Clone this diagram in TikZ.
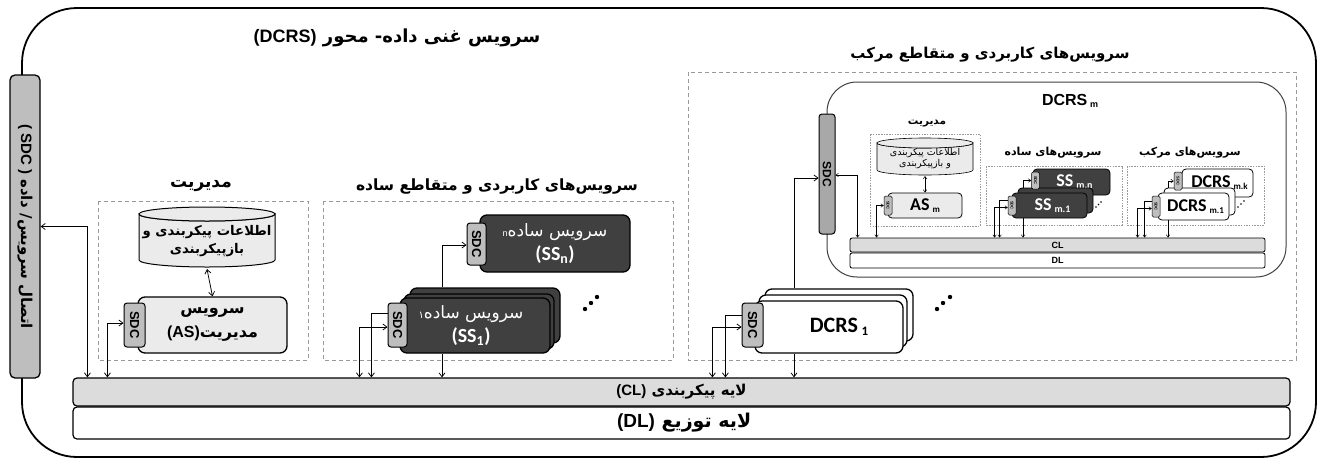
\documentclass[tikz,border=0pt]{standalone}
\usepackage{fontspec}
\usepackage{graphicx}
\usetikzlibrary{arrows.meta,calc}
\setmainfont{Liberation Sans}
\newfontfamily\farsi[Script=Arabic]{DejaVu Sans}
\newfontfamily\lat{Liberation Sans}
\newfontfamily\carl{Carlito}
\TeXXeTstate=1
\newcommand\fa[1]{{\farsi\beginR #1\endR}}
\newcommand\latn[1]{\beginL{\lat #1}\endL}
\newcommand\fsz[1]{\fontsize{#1}{#1}\selectfont}
\definecolor{sdcg}{HTML}{BEBEBE}
\definecolor{msdcg}{HTML}{A8A8A8}
\definecolor{clg}{HTML}{DCDCDC}
\definecolor{darkf}{HTML}{404040}
\definecolor{lightf}{HTML}{EBEBEB}
\definecolor{dashg}{HTML}{9A9A9A}
\newcommand\mycyl[6]{%
\path[#1] ({#2-#5},#3) -- ({#2-#5},#4) arc[start angle=180,end angle=0,x radius=#5,y radius=#6] -- ({#2+#5},#3) arc[start angle=0,end angle=180,x radius=#5,y radius=#6] -- cycle;
\path[#1] (#2,#3) ellipse[x radius=#5,y radius=#6];}
\begin{document}
\begin{tikzpicture}[x=1pt,y=-1pt,
  box/.style={draw, line width=1.3pt, rounded corners=7pt, inner sep=0pt, align=center},
  sdc/.style={draw, fill=sdcg, line width=1pt, rounded corners=3pt, inner sep=0pt},
  dbox/.style={draw=dashg, line width=0.8pt, dash pattern=on 4pt off 3pt},
  ibox/.style={draw=dashg, line width=0.5pt, dash pattern=on 1.5pt off 1.2pt},
  conn/.style={line width=0.75pt, -{Straight Barb[length=4pt,width=6pt]}},
  bconn/.style={line width=0.75pt, {Straight Barb[length=4pt,width=6pt]}-{Straight Barb[length=4pt,width=6pt]}},
  iconn/.style={line width=0.5pt, -{Straight Barb[length=2.5pt,width=3.5pt]}},
  ibconn/.style={line width=0.5pt, {Straight Barb[length=2.5pt,width=3.5pt]}-{Straight Barb[length=2.5pt,width=3.5pt]}},
]
\useasboundingbox (0,0) rectangle (1324,461);
\fill[white] (0,0) rectangle (1324,461);
% outer frame
\draw[line width=1.8pt, rounded corners=55pt] (22,8) rectangle (1316,457);
\node[font=\fsz{18}\bfseries] (title) at (397,38) {\fa{سرویس غنی داده- محور \latn{(DCRS)}}};
% left connector bar
\node[sdc, line width=1.3pt, rounded corners=5pt, minimum width=30pt, minimum height=303pt] (lsdc) at (25,226.5)
  {\rotatebox{-90}{\fsz{15}\bfseries\fa{اتصال سرویس/ داده \latn{( SDC )}}}};
% layers
\node[box, line width=1.2pt, rounded corners=4pt, fill=clg, minimum width=1217pt, minimum height=28pt, font=\fsz{15}\bfseries] (cl) at (681.5,392)
  {\fa{لایه پیکربندی \latn{(CL)}}};
\node[box, line width=1.2pt, rounded corners=4pt, fill=white, minimum width=1217pt, minimum height=32pt, font=\fsz{19}\bfseries] (dl) at (681.5,423)
  {\fa{لایه توزیع \latn{ (DL)}}};
% management
\draw[dbox] (98,201) rectangle (308,360);
\node[font=\fsz{17}\bfseries] (mgt) at (201,186) {\fa{مدیریت}};
\mycyl{draw, line width=1pt, fill=lightf}{207}{214}{260}{68}{7}
\node[align=center, font=\fontsize{13.3}{18}\selectfont\bfseries] (cyl) at (207,241) {\fa{اطلاعات پیکربندی و}\\\fa{بازپیکربندی}};
\coordinate (cylbot) at (207,269);
\node[box, fill=lightf, minimum width=149pt, minimum height=56pt, font=\fontsize{16}{24}\selectfont\bfseries] (as) at (212.5,325)
  {\fa{سرویس}\\\fa{مدیریت\latn{(AS)}}};
\node[sdc, minimum width=21pt, minimum height=44pt] (sdcas) at (134.5,325) {\rotatebox{-90}{\fsz{13}\bfseries SDC}};
\draw[bconn] (cylbot) -- (as.north);
\draw[bconn] ($(cl.north west)+(15,0)$) |- (lsdc.east);
\draw[bconn] ($(cl.north west)+(35,0)$) |- ($(sdcas.west)+(0,-2)$);
% simple services
\draw[dbox] (323,201) rectangle (673,360);
\node[font=\fsz{15.5}\bfseries] (sstitle) at (497,186) {\fa{سرویس‌های کاربردی و متقاطع ساده}};
\node[box, fill=darkf, text=white, minimum width=150pt, minimum height=57pt, font=\fontsize{17}{24}\selectfont] (ssn) at (555,243.5)
  {\fa{سرویس ساده\latn{\fsz{9}n}}\\{\carl\bfseries\fsz{20}(SS\textsubscript{n})}};
\node[box, fill=darkf, minimum width=150pt, minimum height=55pt] (ss1c) at (485,315.5) {};
\node[box, fill=darkf, minimum width=150pt, minimum height=55pt] (ss1b) at (479,321.5) {};
\node[box, fill=darkf, text=white, minimum width=150pt, minimum height=55pt, font=\fontsize{17}{24}\selectfont] (ss1) at (475,325.5)
  {\hspace*{-8pt}\fa{سرویس ساده{\fsz{10}۱}}\\\hspace*{-8pt}{\carl\bfseries\fsz{20}(SS\textsubscript{1})}};
\node[sdc, minimum width=19pt, minimum height=44pt] (sdcss1) at (397.5,325) {\rotatebox{-90}{\fsz{13}\bfseries SDC}};
\node[sdc, minimum width=19pt, minimum height=42pt] (sdcssn) at (476.5,244) {\rotatebox{-90}{\fsz{13}\bfseries SDC}};
\draw[bconn] ($(cl.north west)+(287,0)$) |- ($(sdcss1.west)+(0,2)$);
\draw[conn] ($(sdcss1.west)+(0,-12)$) -| ($(cl.north west)+(299,0)$);
\draw[conn] ($(ss1.south)+(-33,0)$) coordinate (t1) -- (t1 |- cl.north);
\draw[conn] ($(ss1c.north)+(-43,0)$) |- ($(sdcssn.west)+(0,1)$);
\fill (585,309) circle[radius=2.2] (591,303) circle[radius=2.2] (597,297) circle[radius=2.2];
% composite services
\draw[dbox] (688,72) rectangle (1296,360);
\node[font=\fsz{15}\bfseries] (cstitle) at (990,55) {\fa{سرویس‌های کاربردی و متقاطع مرکب}};
\draw[line width=1pt, draw=black!75, rounded corners=30pt] (827,82) rectangle (1286,277);
\node (dmtitle) at (1070,101) {\fsz{16}\bfseries DCRS\,\raisebox{-2pt}{\fsz{9}m}};
\node[sdc, fill=msdcg, minimum width=16pt, minimum height=120pt] (msdc) at (827,174) {\rotatebox{-90}{\fsz{12}\bfseries SDC}};
\node[box, fill=white, minimum width=148pt, minimum height=52pt] (d1c) at (839,315) {};
\node[box, fill=white, minimum width=148pt, minimum height=52pt] (d1b) at (833,321) {};
\node[box, fill=white, minimum width=148pt, minimum height=52pt] (d1) at (829,327)
  {\hspace*{20pt}\carl\bfseries\fsz{22}DCRS\,\raisebox{-3pt}{\fsz{13}1}};
\node[sdc, minimum width=21pt, minimum height=44pt] (sdcd1) at (752.5,325) {\rotatebox{-90}{\fsz{13}\bfseries SDC}};
\draw[bconn] ($(cl.north west)+(640,0)$) |- ($(sdcd1.west)+(0,2)$);
\draw[conn] ($(sdcd1.west)+(0,-10)$) -| ($(cl.north west)+(653,0)$);
\draw[conn] ($(d1.south)+(-35,0)$) coordinate (t2) -- (t2 |- cl.north);
\draw[conn] ($(d1c.north)+(-45,0)$) |- ($(msdc.west)+(0,4)$);
\fill (937,309) circle[radius=2.2] (943,303) circle[radius=2.2] (950,297) circle[radius=2.2];
% inner layers
\node[box, line width=0.8pt, rounded corners=2pt, fill=clg, minimum width=415pt, minimum height=14pt] (icl) at (1057.5,245) {\fsz{9}\bfseries CL};
\node[box, line width=0.8pt, rounded corners=2pt, fill=white, minimum width=415pt, minimum height=15pt] (idl) at (1057.5,260.5) {\fsz{9}\bfseries DL};
% inner management
\draw[ibox] (870,134) rectangle (980,226);
\node[font=\fsz{10.5}\bfseries] (imgt) at (927,124) {\fa{مدیریت}};
\mycyl{draw, line width=0.6pt, fill=lightf}{925}{143}{170}{48}{5}
\node[align=center, font=\fontsize{9.5}{11.5}\selectfont] (icyl) at (925,158.5) {\fa{اطلاعات پیکربندی}\\\fa{و بازپیکربندی}};
\coordinate (icb) at (925,176);
\node[box, line width=0.8pt, rounded corners=4pt, fill=lightf, minimum width=74pt, minimum height=25pt] (asm) at (925,205.5)
  {\carl\bfseries\fsz{18}AS\,\raisebox{-2pt}{\fsz{9}m}};
\node[sdc, line width=0.5pt, rounded corners=1.5pt, minimum width=8pt, minimum height=19pt] (sdcasm) at (888,205.5) {\rotatebox{-90}{\fsz{4}\bfseries SDC}};
\draw[ibconn] (icb) -- (asm.north);
\draw[ibconn] ($(icl.north west)+(27,0)$) |- (sdcasm.west);
\draw[ibconn] ($(icl.north west)+(8,0)$) |- ($(msdc.east)+(0,1)$);
% inner simple
\draw[ibox] (986,166) rectangle (1122,225);
\node[font=\fsz{11}\bfseries] (isstitle) at (1053,153) {\fa{سرویس‌های ساده}};
\node[box, line width=0.8pt, rounded corners=4pt, fill=darkf, text=white, minimum width=77pt, minimum height=26pt] (ssmn) at (1071.5,182)
  {\hspace*{6pt}\carl\bfseries\fsz{18}SS\,\raisebox{-2pt}{\fsz{10}m.n}};
\node[box, line width=0.8pt, rounded corners=4pt, fill=darkf, minimum width=75pt, minimum height=25pt] (ssm1b) at (1055.5,200.5) {};
\node[box, line width=0.8pt, rounded corners=4pt, fill=darkf, text=white, minimum width=75pt, minimum height=25pt] (ssm1) at (1049.5,205.5)
  {\hspace*{6pt}\carl\bfseries\fsz{18}SS\,\raisebox{-2pt}{\fsz{10}m.1}};
\node[sdc, line width=0.5pt, rounded corners=1.5pt, minimum width=8pt, minimum height=17pt] (sdcssmn) at (1035.5,180.5) {\rotatebox{-90}{\fsz{4}\bfseries SDC}};
\node[sdc, line width=0.5pt, rounded corners=1.5pt, minimum width=8pt, minimum height=19pt] (sdcssm1) at (1012,205.5) {\rotatebox{-90}{\fsz{4}\bfseries SDC}};
\draw[ibconn] ($(icl.north west)+(145,0)$) |- ($(sdcssm1.west)+(0,2)$);
\draw[iconn] ($(sdcssm1.west)+(0,-5)$) -| ($(icl.north west)+(150,0)$);
\draw[iconn] ($(ssm1.south)+(-26.5,0)$) coordinate (t3) -- (t3 |- icl.north);
\draw[iconn] ($(ssm1b.north)+(-32.5,0)$) |- (sdcssmn.west);
\fill (1096,207) circle[radius=0.8] (1098.5,204.5) circle[radius=0.8] (1101,202) circle[radius=0.8];
% inner composite
\draw[ibox] (1127,166) rectangle (1264,225);
\node[font=\fsz{11}\bfseries] (icstitle) at (1190,153) {\fa{سرویس‌های مرکب}};
\node[box, line width=0.8pt, rounded corners=4pt, fill=white, minimum width=71pt, minimum height=28pt] (dmk) at (1217.5,183)
  {\hspace*{4pt}\carl\bfseries\fsz{18}DCRS\,\raisebox{-2pt}{\fsz{9}m.k}};
\node[box, line width=0.8pt, rounded corners=4pt, fill=white, minimum width=71pt, minimum height=27pt] (dm1b) at (1199.5,201.5) {};
\node[box, line width=0.8pt, rounded corners=4pt, fill=white, minimum width=71pt, minimum height=27pt] (dm1) at (1193.5,206.5)
  {\hspace*{4pt}\carl\bfseries\fsz{18}DCRS\,\raisebox{-2pt}{\fsz{9}m.1}};
\node[sdc, line width=0.5pt, rounded corners=1.5pt, minimum width=8pt, minimum height=18pt] (sdcdmk) at (1178,181) {\rotatebox{-90}{\fsz{4}\bfseries SDC}};
\node[sdc, line width=0.5pt, rounded corners=1.5pt, minimum width=8pt, minimum height=21pt] (sdcdm1) at (1156,206.5) {\rotatebox{-90}{\fsz{4}\bfseries SDC}};
\draw[ibconn] ($(icl.north west)+(288,0)$) |- ($(sdcdm1.west)+(0,2)$);
\draw[iconn] ($(sdcdm1.west)+(0,-5)$) -| ($(icl.north west)+(295,0)$);
\draw[iconn] ($(dm1.south)+(-25.5,0)$) coordinate (t4) -- (t4 |- icl.north);
\draw[iconn] ($(dm1b.north)+(-31.5,0)$) |- (sdcdmk.west);
\fill (1238,207) circle[radius=0.8] (1241,204) circle[radius=0.8] (1244,201) circle[radius=0.8];
\end{tikzpicture}
\end{document}
